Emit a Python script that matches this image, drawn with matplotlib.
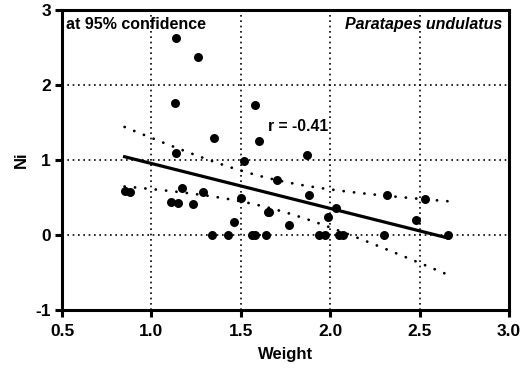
import numpy as np
import matplotlib
matplotlib.use("Agg")
import matplotlib.pyplot as plt

# Ni concentration versus shell weight for Paratapes undulatus
weight = [1.14, 1.26, 1.13, 1.58, 1.35, 1.60, 1.14, 1.52, 1.87,
          0.85, 0.88, 1.17, 1.29, 1.11, 1.15, 1.23, 1.50, 1.46,
          1.34, 1.43, 1.56, 1.58, 1.64, 1.65, 1.66, 1.70, 1.77,
          1.88, 2.32, 2.53, 1.99, 2.03, 2.48, 1.94, 1.97, 2.05,
          2.07, 2.30, 2.66]
ni = [2.63, 2.37, 1.76, 1.73, 1.30, 1.25, 1.10, 0.99, 1.07,
      0.59, 0.57, 0.63, 0.57, 0.44, 0.43, 0.41, 0.50, 0.17,
      0.00, 0.00, 0.00, 0.00, 0.00, 0.31, 0.31, 0.74, 0.14,
      0.53, 0.53, 0.48, 0.24, 0.36, 0.20, 0.00, 0.00, 0.00,
      0.00, 0.00, 0.00]

x_ticks = [0.5, 1.0, 1.5, 2.0, 2.5, 3.0]
x_tick_labels = ["0.5", "1.0", "1.5", "2.0", "2.5", "3.0"]
y_ticks = [-1, 0, 1, 2, 3]
y_tick_labels = ["-1", "0", "1", "2", "3"]

plt.rcParams["font.family"] = ["Liberation Sans", "DejaVu Sans"]
plt.rcParams["font.weight"] = "bold"

x = np.array(weight)
y = np.array(ni)
n = len(x)

# linear fit and 95% confidence band of the mean
slope, intercept = np.polyfit(x, y, 1)
resid = y - (slope * x + intercept)
s = np.sqrt(np.sum(resid ** 2) / (n - 2))
sxx = np.sum((x - x.mean()) ** 2)
t95 = 2.026
xl = np.linspace(x.min(), x.max(), 100)
fit = slope * xl + intercept
half = t95 * s * np.sqrt(1.0 / n + (xl - x.mean()) ** 2 / sxx)

fig = plt.figure(figsize=(5.22, 3.68), dpi=100)
ax = fig.add_axes([0.1188, 0.1576, 0.8562, 0.8152])

for gx in x_ticks[1:-1]:
    ax.axvline(gx, color="black", lw=1.2, ls=(0, (1, 2.2)), zorder=1)
for gy in y_ticks[1:-1]:
    ax.axhline(gy, color="black", lw=1.2, ls=(0, (1, 2.2)), zorder=1)

ax.scatter(x, y, s=42, color="black", zorder=3, linewidths=0)
ax.plot(xl, fit, color="black", lw=2.3, zorder=4)
for band in (fit + half, fit - half):
    ax.plot(xl, band, color="black", lw=2.0, ls=(0, (0.05, 3.7)),
            dash_capstyle="round", zorder=2)

ax.set_xlim(0.5, 3.0)
ax.set_ylim(-1, 3)
ax.set_xticks(x_ticks)
ax.set_xticklabels(x_tick_labels)
ax.set_yticks(y_ticks)
ax.set_yticklabels(y_tick_labels)
ax.tick_params(direction="out", length=5, width=2.2, labelsize=12.5,
               pad=3, color="black")
ax.tick_params(axis="x", pad=5)
for sp in ax.spines.values():
    sp.set_linewidth(2.2)
    sp.set_color("black")

ax.set_xlabel("Weight", fontsize=12, fontweight="bold", labelpad=6)
ax.set_ylabel("Ni", fontsize=12, fontweight="bold", labelpad=5)

ax.text(0.010, 0.978, "at 95% confidence", transform=ax.transAxes,
        ha="left", va="top", fontsize=11.5, fontweight="bold")
ax.text(0.985, 0.978, "Paratapes undulatus", transform=ax.transAxes,
        ha="right", va="top", fontsize=11.5, fontweight="bold",
        style="italic")
ax.text(1.65, 1.45, "r = -0.41", ha="left", va="center",
        fontsize=11.3, fontweight="bold")

fig.savefig("out.png", dpi=100)
